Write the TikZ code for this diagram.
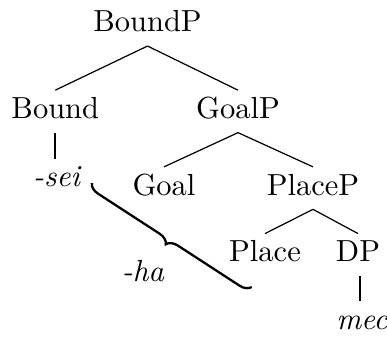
\documentclass[tikz,border=0pt]{standalone}
\usetikzlibrary{decorations.pathreplacing}
\begin{document}
\begin{tikzpicture}[x=0.328pt,y=-0.328pt,
  lab/.style={anchor=base,inner xsep=0pt,inner ysep=2.2pt,text height=6.83pt,text depth=2.3pt},
  branch/.style={line width=0.4pt},
  stem/.style={line width=0.7pt},
  bracepath/.style={line width=0.75pt,decorate,decoration={brace,amplitude=3.6pt}}]
\useasboundingbox (0,0) rectangle (387,336);
\node[lab] (boundp) at (147.5,31.7) {BoundP};
\node[lab] (bound)  at (55.3,118.3) {Bound};
\node[lab] (goalp)  at (238,118.3) {GoalP};
\node[lab] (sei)    at (56.5,186.7) {\itshape -sei};
\node[lab] (goal)   at (164,195) {Goal};
\node[lab] (placep) at (313,195) {PlaceP};
\node[lab] (place)  at (265,261.7) {Place};
\node[lab] (dp)     at (358,261.7) {DP};
\node[lab] (mec)    at (362,329) {\itshape mec};
\node[lab] (ha)     at (143,281.7) {\itshape -ha};
\coordinate (bs) at (91.7,183);
\coordinate (be) at (251.7,287);
\draw[branch] (boundp.south) -- (bound.north);
\draw[branch] (boundp.south) -- (goalp.north);
\draw[branch] (goalp.south) -- (goal.north);
\draw[branch] (goalp.south) -- (placep.north);
\draw[branch] (placep.south) -- (place.north);
\draw[branch] (placep.south) -- (dp.north);
\draw[stem] (bound.south) -- (bound.south |- sei.north);
\draw[stem] ([xshift=0.6pt]dp.south) -- ([xshift=0.6pt]dp.south |- mec.north);
\draw[bracepath] (be) -- (bs);
\end{tikzpicture}
\end{document}
